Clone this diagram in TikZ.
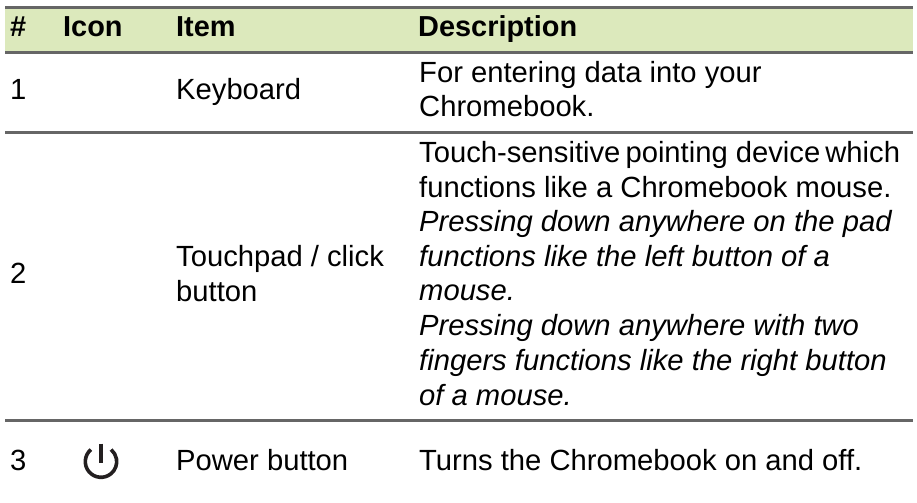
\documentclass[tikz,border=0pt]{standalone}
\usepackage{fontspec}
\setmainfont{Liberation Sans}
\definecolor{headbg}{HTML}{DCE9BC}
\definecolor{rulec}{HTML}{666666}
\definecolor{iconc}{HTML}{231F20}
\tikzset{
 cell/.style={anchor=base west,inner sep=0pt,font=\fontsize{29.2bp}{29.2bp}\selectfont},
 head/.style={cell,font=\fontsize{28.9bp}{28.9bp}\selectfont\bfseries},
 emcell/.style={cell,font=\fontsize{29.2bp}{29.2bp}\selectfont\itshape},
 rulel/.style={draw=rulec,line width=3bp},
 iconl/.style={draw=iconc,line width=3.6bp},
}
\begin{document}
\begin{tikzpicture}[x=1bp,y=-1bp]
\useasboundingbox (0,0) rectangle (917,503);
\fill[headbg] (5,8) rectangle (913,52);
\coordinate (t0) at (5,7.5); \coordinate (t1) at (913,7.5);
\coordinate (a0) at (5,52.5); \coordinate (a1) at (913,52.5);
\coordinate (b0) at (5,132.5); \coordinate (b1) at (913,132.5);
\coordinate (c0) at (5,420.5); \coordinate (c1) at (913,420.5);
\draw[rulel] (t0)--(t1); \draw[rulel] (a0)--(a1); \draw[rulel] (b0)--(b1); \draw[rulel] (c0)--(c1);
\node[head] (h1) at (10,37) {\#};
\node[head] (h2) at (63,37) {Icon};
\node[head] (h3) at (176,37) {Item};
\node[head] (h4) at (418,37) {Description};
\node[cell] (n1) at (10,100) {1};
\node[cell] (k) at (176,100) {Keyboard};
\node[cell] (d1a) at (419,83) {For entering data into your};
\node[cell] (d1b) at (419,117) {Chromebook.};
\node[cell] (n2) at (10,283.5) {2};
\node[cell] (t2a) at (176,267) {Touchpad / click};
\node[cell] (t2b) at (176,301.5) {button};
\node[cell] (l1) at (419,163) {Touch-sensitive\hspace{-3bp} pointing device\hspace{-3bp} which};
\node[cell] (l2) at (419,197.5) {functions like a Chromebook mouse.};
\node[emcell] (l3) at (419,232) {Pressing down anywhere on the pad};
\node[emcell] (l4) at (419,266.5) {functions like the left button of a};
\node[emcell] (l5) at (419,301) {mouse.};
\node[emcell] (l6) at (419,336) {Pressing down anywhere with two};
\node[emcell] (l7) at (419,370.5) {fingers functions like the right button};
\node[emcell] (l8) at (419,405) {of a mouse.};
\node[cell] (n3) at (10,470) {3};
\node[cell] (p) at (176,470) {Power button};
\node[cell] (d3) at (419,470) {Turns the Chromebook on and off.};
\coordinate (ic) at (101,461.6);
\coordinate (bt) at (101,443.5);
\coordinate (bb) at (101,463);
\draw[iconl,line width=4bp] (bt)--(bb);
\draw[iconl] (ic) ++(-130:15.7) arc[start angle=-130,end angle=-410,radius=15.7];
\end{tikzpicture}
\end{document}
